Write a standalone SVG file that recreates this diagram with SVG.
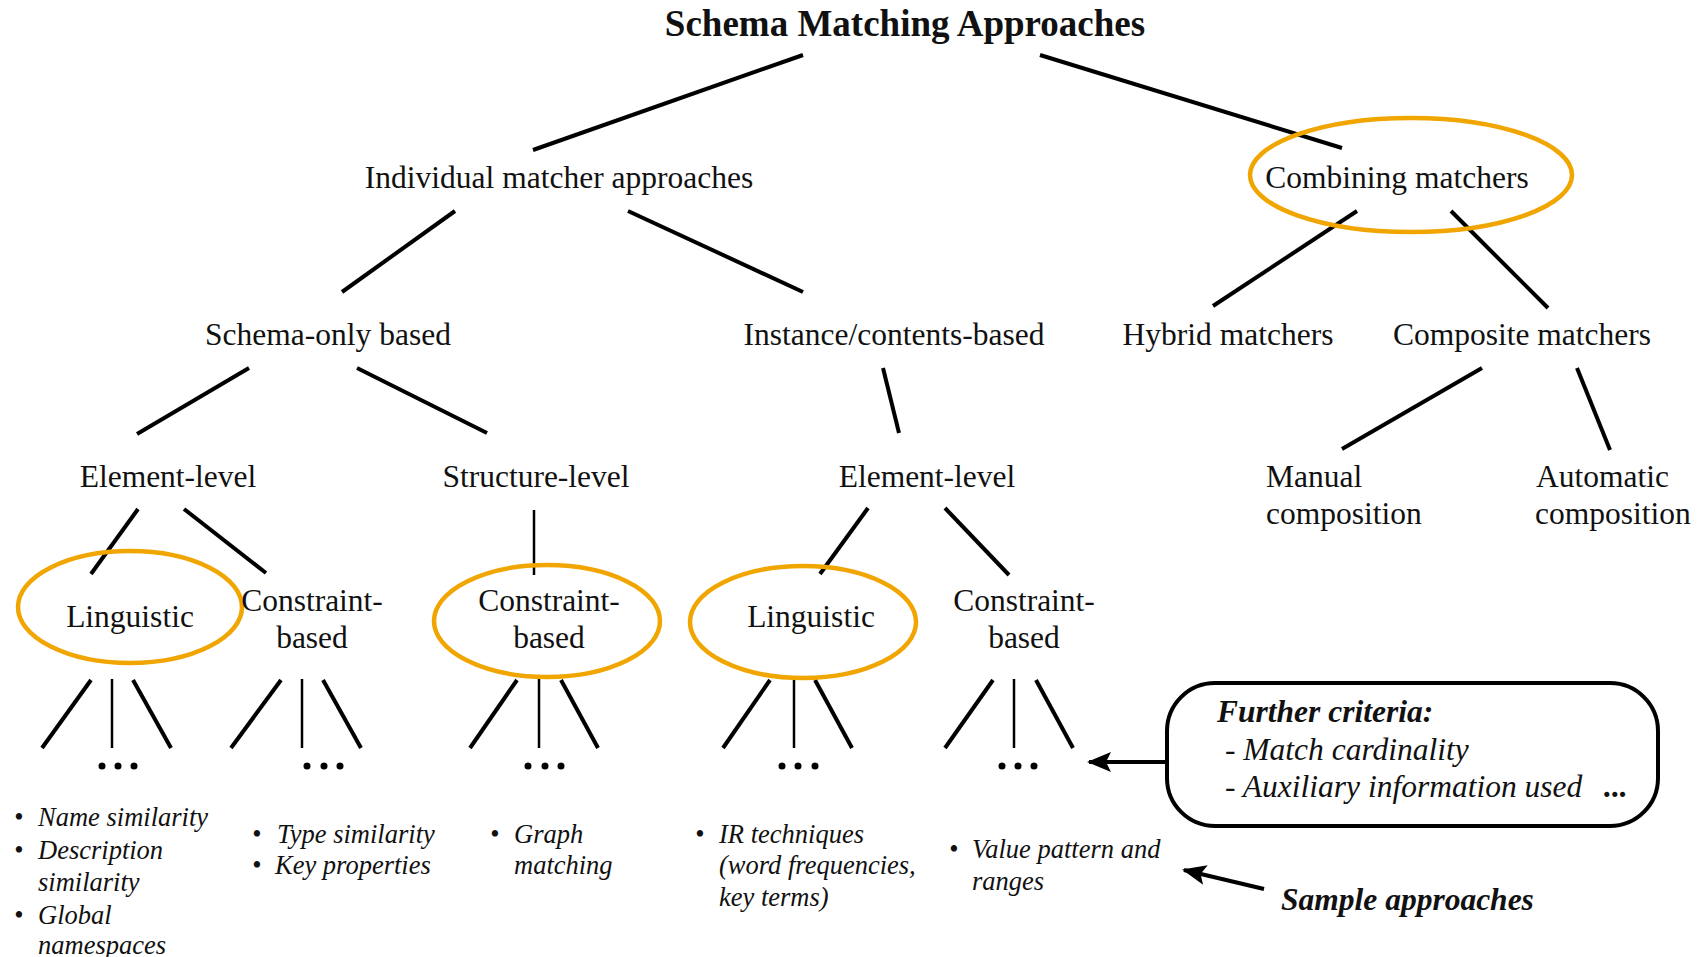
<svg xmlns="http://www.w3.org/2000/svg" width="1704" height="957" viewBox="0 0 1704 957">
<style>
text{font-family:"Liberation Serif","Times New Roman",serif;fill:#111}
.t{font-size:31.5px;text-anchor:middle}
.l{font-size:31.5px}
.title{font-size:37px;font-weight:bold;text-anchor:middle}
.it{font-size:26.5px;font-style:italic}
.bi{font-size:31.5px;font-style:italic;font-weight:bold}
.ci{font-size:31.5px;font-style:italic}
.hl{fill:none;stroke:#F0A500;stroke-width:4.5}
.c{stroke:#000;stroke-width:4;stroke-linecap:butt;fill:none}
.v{stroke:#000;stroke-width:2.5;fill:none}
.dot{fill:#000}
</style>
<defs>
<marker id="arr" viewBox="0 0 24 20" refX="22" refY="10" markerWidth="24" markerHeight="20" markerUnits="userSpaceOnUse" orient="auto">
<path d="M0,0 L24,10 L0,20 L5,10 Z" fill="#000"/>
</marker>
</defs>
<rect width="1704" height="957" fill="#fff"/>

<g id="connectors">
<line class="c" x1="803" y1="55" x2="533" y2="150"/>
<line class="c" x1="1040" y1="55" x2="1342" y2="148"/>
<line class="c" x1="455" y1="211" x2="342" y2="292"/>
<line class="c" x1="628" y1="211" x2="803" y2="292"/>
<line class="c" x1="1357" y1="211" x2="1213" y2="306"/>
<line class="c" x1="1451" y1="211" x2="1548" y2="308"/>
<line class="c" x1="249" y1="368" x2="137" y2="434"/>
<line class="c" x1="357" y1="368" x2="487" y2="433"/>
<line class="c" x1="883" y1="368" x2="899" y2="433"/>
<line class="c" x1="1482" y1="368" x2="1342" y2="449"/>
<line class="c" x1="1577" y1="368" x2="1610" y2="450"/>
<line class="c" x1="138" y1="509" x2="91" y2="574"/>
<line class="c" x1="184" y1="509" x2="266" y2="573"/>
<line class="v" x1="534" y1="510" x2="534" y2="575"/>
<line class="c" x1="868" y1="508" x2="820" y2="574"/>
<line class="c" x1="945" y1="508" x2="1009" y2="575"/>
<line class="c" x1="91" y1="680" x2="42" y2="748"/>
<line class="v" x1="112" y1="679" x2="112" y2="748"/>
<line class="c" x1="133" y1="680" x2="171" y2="748"/>
<line class="c" x1="281" y1="680" x2="231" y2="748"/>
<line class="v" x1="302" y1="679" x2="302" y2="748"/>
<line class="c" x1="323" y1="680" x2="361" y2="748"/>
<line class="c" x1="517" y1="680" x2="470" y2="748"/>
<line class="v" x1="539" y1="679" x2="539" y2="748"/>
<line class="c" x1="561" y1="680" x2="598" y2="748"/>
<line class="c" x1="770" y1="680" x2="723" y2="748"/>
<line class="v" x1="794" y1="679" x2="794" y2="748"/>
<line class="c" x1="815" y1="680" x2="852" y2="748"/>
<line class="c" x1="993" y1="680" x2="945" y2="748"/>
<line class="v" x1="1014" y1="679" x2="1014" y2="748"/>
<line class="c" x1="1036" y1="680" x2="1073" y2="748"/>
<line class="c" x1="1166" y1="762" x2="1089" y2="762" marker-end="url(#arr)"/>
<line class="c" x1="1264" y1="889" x2="1184" y2="870" marker-end="url(#arr)"/>
</g>

<g id="dots">
<circle class="dot" cx="102" cy="766" r="3.5"/><circle class="dot" cx="118" cy="766" r="3.5"/><circle class="dot" cx="134" cy="766" r="3.5"/>
<circle class="dot" cx="307" cy="766" r="3.5"/><circle class="dot" cx="324" cy="766" r="3.5"/><circle class="dot" cx="340" cy="766" r="3.5"/>
<circle class="dot" cx="528" cy="766" r="3.5"/><circle class="dot" cx="545" cy="766" r="3.5"/><circle class="dot" cx="561" cy="766" r="3.5"/>
<circle class="dot" cx="782" cy="766" r="3.5"/><circle class="dot" cx="798" cy="766" r="3.5"/><circle class="dot" cx="815" cy="766" r="3.5"/>
<circle class="dot" cx="1002" cy="766" r="3.5"/><circle class="dot" cx="1018" cy="766" r="3.5"/><circle class="dot" cx="1034" cy="766" r="3.5"/>
</g>

<g id="n-root"><text class="title" x="905" y="36">Schema Matching Approaches</text></g>
<g id="n-individual"><text class="t" x="559" y="188">Individual matcher approaches</text></g>
<g id="n-combining"><ellipse class="hl" cx="1411" cy="175" rx="161" ry="57"/><text class="t" x="1397" y="188">Combining matchers</text></g>
<g id="n-schema-only"><text class="t" x="328" y="345">Schema-only based</text></g>
<g id="n-instance"><text class="t" x="894" y="345">Instance/contents-based</text></g>
<g id="n-hybrid"><text class="t" x="1228" y="345">Hybrid matchers</text></g>
<g id="n-composite"><text class="t" x="1522" y="345">Composite matchers</text></g>
<g id="n-element1"><text class="t" x="168" y="487">Element-level</text></g>
<g id="n-structure"><text class="t" x="536" y="487">Structure-level</text></g>
<g id="n-element2"><text class="t" x="927" y="487">Element-level</text></g>
<g id="n-manual"><text class="l" x="1266" y="487">Manual</text><text class="l" x="1266" y="524">composition</text></g>
<g id="n-automatic"><text class="l" x="1536" y="487">Automatic</text><text class="l" x="1535" y="524">composition</text></g>
<g id="n-ling1"><ellipse class="hl" cx="130" cy="607" rx="112" ry="56"/><text class="t" x="130" y="627">Linguistic</text></g>
<g id="n-cons1"><text class="t" x="312" y="611">Constraint-</text><text class="t" x="312" y="648">based</text></g>
<g id="n-cons2"><ellipse class="hl" cx="547" cy="621" rx="113" ry="56"/><text class="t" x="549" y="611">Constraint-</text><text class="t" x="549" y="648">based</text></g>
<g id="n-ling2"><ellipse class="hl" cx="803" cy="622" rx="113" ry="56"/><text class="t" x="811" y="627">Linguistic</text></g>
<g id="n-cons3"><text class="t" x="1024" y="611">Constraint-</text><text class="t" x="1024" y="648">based</text></g>

<g id="n-samples1">
<text class="it" x="14" y="826">•</text><text class="it" x="38" y="826">Name similarity</text>
<text class="it" x="14" y="859">•</text><text class="it" x="38" y="859">Description</text>
<text class="it" x="38" y="891">similarity</text>
<text class="it" x="14" y="924">•</text><text class="it" x="38" y="924">Global</text>
<text class="it" x="38" y="954">namespaces</text>
</g>
<g id="n-samples2">
<text class="it" x="252" y="843">•</text><text class="it" x="277" y="843">Type similarity</text>
<text class="it" x="252" y="874">•</text><text class="it" x="275" y="874">Key properties</text>
</g>
<g id="n-samples3">
<text class="it" x="490" y="843">•</text><text class="it" x="514" y="843">Graph</text>
<text class="it" x="514" y="874">matching</text>
</g>
<g id="n-samples4">
<text class="it" x="695" y="843">•</text><text class="it" x="719" y="843">IR techniques</text>
<text class="it" x="719" y="874">(word frequencies,</text>
<text class="it" x="719" y="906">key terms)</text>
</g>
<g id="n-samples5">
<text class="it" x="949" y="858">•</text><text class="it" x="972" y="858">Value pattern and</text>
<text class="it" x="972" y="890">ranges</text>
</g>

<g id="n-further">
<rect x="1167" y="683" width="491" height="143" rx="48" ry="48" fill="none" stroke="#000" stroke-width="4"/>
<text class="bi" x="1217" y="722">Further criteria:</text>
<text class="ci" x="1225" y="760">- Match cardinality</text>
<text class="ci" x="1225" y="797">- Auxiliary information used</text>
<text class="bi" x="1604" y="797">...</text>
</g>
<g id="n-sample-label"><text class="bi" x="1281" y="910">Sample approaches</text></g>
</svg>
